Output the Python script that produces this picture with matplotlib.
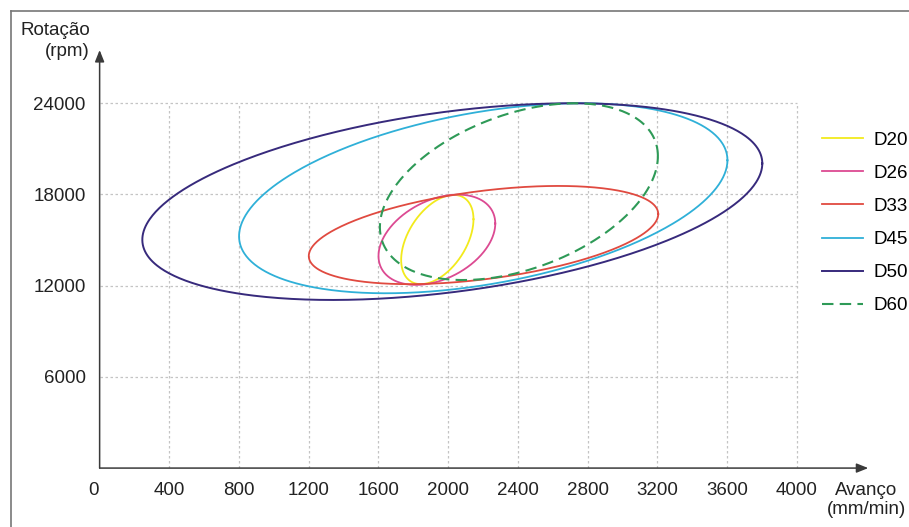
import numpy as np
import matplotlib
matplotlib.use("Agg")
import matplotlib.pyplot as plt
from matplotlib.lines import Line2D

plt.rcParams["font.family"] = ["Liberation Sans", "DejaVu Sans"]

# each envelope is an ellipse given by its extremes (mm/min, rpm)
labels = ["D20", "D26", "D33", "D45", "D50", "D60"]
x_left = [1730, 1600, 1200, 800, 245, 1608]
x_right = [2145, 2270, 3205, 3602, 3802, 3203]
y_bottom = [12100, 12050, 12100, 11500, 11060, 12370]
y_top = [17970, 17990, 18560, 24000, 24000, 24000]
y_at_left = [13700, 13950, 13950, 15250, 15020, 15850]

colors = ["#f2ea1c", "#dc4a92", "#e04a40", "#2fb0d8", "#372a7c", "#2e9a57"]
styles = ["-", "-", "-", "-", "-", (0, (5.5, 3.0))]
widths = [1.3, 1.3, 1.3, 1.3, 1.4, 1.5]

xticks = [400, 800, 1200, 1600, 2000, 2400, 2800, 3200, 3600, 4000]
yticks = [6000, 12000, 18000, 24000]

fig = plt.figure(figsize=(9.09, 5.27), dpi=100)
ax = fig.add_axes([0.1096, 0.1118, 0.8475, 0.799])
ax.set_xlim(0, 4420)
ax.set_ylim(0, 27700)
for s in ax.spines.values():
    s.set_visible(False)

# dotted grid, only inside the 4000 x 24000 area
ax.vlines(xticks, 0, 24000, colors="#c4c4c4", linestyles=(0, (2, 2)), linewidth=0.9, zorder=1)
ax.hlines(yticks, 0, 4000, colors="#c4c4c4", linestyles=(0, (2, 2)), linewidth=0.9, zorder=1)

t = np.linspace(0, 2 * np.pi, 500)
for i in range(len(labels)):
    cx = (x_left[i] + x_right[i]) / 2
    W = (x_right[i] - x_left[i]) / 2
    cy = (y_bottom[i] + y_top[i]) / 2
    H = (y_top[i] - y_bottom[i]) / 2
    phi = np.arccos((cy - y_at_left[i]) / H)
    xs = cx + W * np.cos(t)
    ys = cy + H * np.cos(t - phi)
    ax.plot(xs, ys, color=colors[i], linestyle=styles[i], linewidth=widths[i],
            label=labels[i], zorder=3)

# axes with arrow heads
arr = dict(arrowstyle="-|>,head_length=0.7,head_width=0.28", color="#3a3a3a",
           linewidth=1.1, shrinkA=0, shrinkB=0)
ax.annotate("", xy=(4410, 0), xytext=(0, 0), arrowprops=arr, annotation_clip=False)
ax.annotate("", xy=(0, 27500), xytext=(0, 0), arrowprops=arr, annotation_clip=False)

ax.set_xticks(xticks)
ax.set_xticklabels([str(v) for v in xticks])
ax.set_yticks(yticks)
ax.set_yticklabels([str(v) for v in yticks])
ax.tick_params(length=0, labelsize=13.5, colors="#222222")
ax.tick_params(axis="x", pad=10)
ax.tick_params(axis="y", pad=10)
ax.text(-35, 0, "0", ha="center", va="top", fontsize=13.5, color="#222222",
        transform=ax.transData + matplotlib.transforms.ScaledTranslation(0, -10 / 72, fig.dpi_scale_trans))

fig.text(90 / 909, 1 - 41 / 527, "Rotação\n(rpm)", ha="right", va="center",
         multialignment="right", fontsize=13.5, linespacing=1.3, color="#222222")
fig.text(866 / 909, 1 - 500 / 527, "Avanço\n(mm/min)", ha="center", va="center",
         multialignment="center", fontsize=13.5, linespacing=1.2, color="#222222")

fig.legend(loc="center left", bbox_to_anchor=(822 / 909, 1 - 223 / 527), frameon=False,
           fontsize=13.5, handlelength=2.2, handletextpad=0.55, labelspacing=0.85,
           borderpad=0, borderaxespad=0)

# grey frame on the top and left edges
fig.add_artist(Line2D([11 / 909, 11 / 909], [0, 1 - 11 / 527], color="#777777", linewidth=1.2))
fig.add_artist(Line2D([11 / 909, 1], [1 - 11 / 527, 1 - 11 / 527], color="#777777", linewidth=1.2))

fig.savefig("out.png", dpi=100, facecolor="white")
